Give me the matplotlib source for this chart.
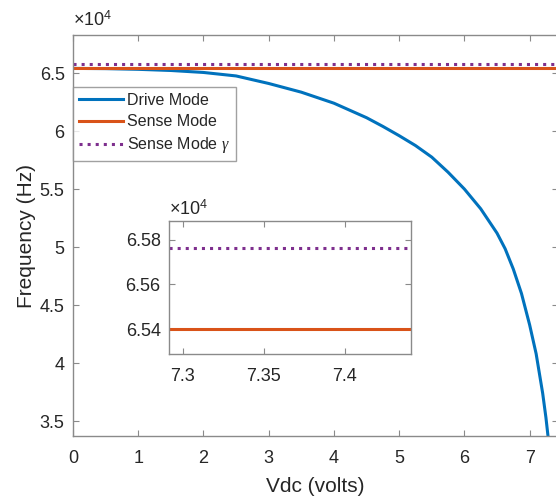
import matplotlib
matplotlib.use("Agg")
import matplotlib.pyplot as plt
from matplotlib.ticker import FuncFormatter

plt.rcParams['font.family'] = ['Liberation Sans', 'DejaVu Sans']
plt.rcParams['mathtext.fontset'] = 'custom'
plt.rcParams['mathtext.it'] = 'Liberation Serif:italic'
plt.rcParams['mathtext.rm'] = 'Liberation Sans'

# drive mode frequency (Hz)
vdc_drive = [0.0, 0.5, 1.0, 1.5, 2.0, 2.5, 3.0, 3.5, 4.0, 4.5, 4.75, 5.0,
             5.25, 5.5, 5.75, 6.0, 6.25, 6.5, 6.625, 6.75, 6.875, 7.0, 7.1,
             7.2, 7.25, 7.30]
f_drive = [65400, 65380, 65320, 65220, 65050, 64750, 64100, 63350, 62400,
           61150, 60400, 59600, 58750, 57750, 56450, 55000, 53300, 51200,
           49850, 48100, 46000, 43300, 40800, 37400, 35300, 32800]

# sense modes are flat
vdc_sense = [0.0, 7.44]
f_sense = [65403, 65403]
f_sense_gamma = [65763, 65763]

BLUE = '#0072BD'
ORANGE = '#D95319'
PURPLE = '#7E2F8E'
AX_COL = '#262626'
SPINE = '#8a8a8a'

fig = plt.figure(figsize=(5.56, 4.97), dpi=100)
ax = fig.add_axes([0.1313, 0.1227, 0.8717, 0.8069])
ins = fig.add_axes([0.304, 0.288, 0.435, 0.268])

e4 = FuncFormatter(lambda v, _: f"{v / 1e4:g}")
plain = FuncFormatter(lambda v, _: f"{v:g}")


def style(a):
    for s in a.spines.values():
        s.set_color(SPINE)
        s.set_linewidth(1.0)
    a.tick_params(direction='in', length=4, width=0.8, color=SPINE,
                  top=True, right=True, labelsize=13, labelcolor=AX_COL)
    a.tick_params(axis='x', pad=10)
    a.tick_params(axis='y', pad=6)
    a.yaxis.set_major_formatter(e4)
    a.xaxis.set_major_formatter(plain)


for a in (ax, ins):
    a.plot(vdc_drive, f_drive, color=BLUE, lw=2.2, label='Drive Mode')
    a.plot(vdc_sense, f_sense, color=ORANGE, lw=2.2, label='Sense Mode')
    a.plot(vdc_sense, f_sense_gamma, color=PURPLE, lw=2.2, ls=':',
           dash_capstyle='butt', label=r'Sense Mode $\gamma$')
    style(a)

ax.set_xlim(0, 7.43)
ax.set_ylim(33710, 68280)
ax.set_xticks(range(8))
ax.set_yticks([35000, 40000, 45000, 50000, 55000, 60000, 65000])
ax.set_xlabel('Vdc (volts)', fontsize=15, color=AX_COL, labelpad=7)
ax.set_ylabel('Frequency (Hz)', fontsize=15, color=AX_COL, labelpad=3)
ax.text(0.0, 1.012, r'$\times10^{4}$', transform=ax.transAxes,
        fontsize=13, color=AX_COL, va='bottom', ha='left')

leg = ax.legend(loc='upper left', bbox_to_anchor=(0.0, 0.870), fontsize=11.5,
                frameon=True, fancybox=False, handlelength=2.8,
                borderpad=0.35, labelspacing=0.4, handletextpad=0.25,
                borderaxespad=0.0)
leg.get_frame().set_edgecolor(SPINE)
leg.get_frame().set_linewidth(1.0)
for t in leg.get_texts():
    t.set_color(AX_COL)

ins.set_xlim(7.2914, 7.4407)
ins.set_ylim(65290, 65885)
ins.set_xticks([7.3, 7.35, 7.4])
ins.set_yticks([65400, 65600, 65800])
ins.text(0.0, 1.012, r'$\times10^{4}$', transform=ins.transAxes,
         fontsize=13, color=AX_COL, va='bottom', ha='left')

fig.savefig('out.png', dpi=100)
